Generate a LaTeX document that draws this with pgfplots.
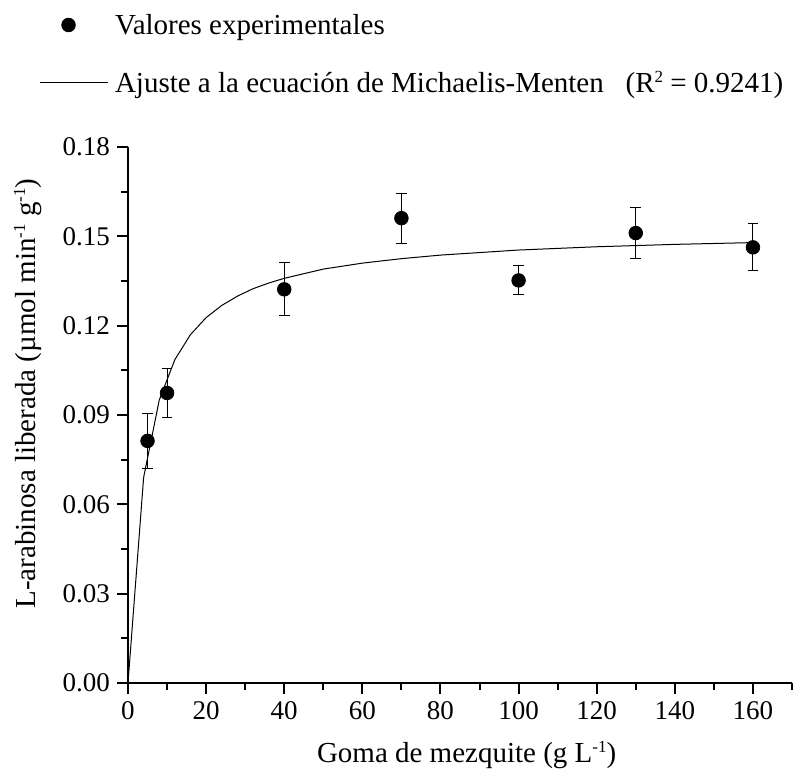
\documentclass[border=0pt]{standalone}
\usepackage{fontspec}
\setmainfont{Liberation Serif}
\usepackage{pgfplots}
\usepackage{pgfplotstable}
\pgfplotsset{compat=1.18}
\newcommand{\sups}[1]{\raisebox{0.8ex}{\fontsize{8.5}{8.5}\selectfont #1}}

\pgfplotstableread{
x y err
5 0.0813 0.0093
10 0.0974 0.0083
40 0.1322 0.0089
70 0.1561 0.0084
100 0.1352 0.0049
130 0.1511 0.0087
160 0.1463 0.0079
}\expdata

\pgfplotstableread{
x y
0 0
4 0.0690
8 0.0950
12 0.1086
16 0.1170
20 0.1227
24 0.1268
28 0.1299
32 0.1324
36 0.1343
40 0.1359
50 0.1390
60 0.1410
70 0.1425
80 0.1437
100 0.1454
120 0.1465
140 0.1473
160 0.1479
}\fitdata

\begin{document}
\begin{tikzpicture}
\begin{axis}[
  scale only axis,
  width=332pt, height=268pt,
  xmin=0, xmax=170, ymin=0, ymax=0.18,
  axis lines*=left,
  axis line style={line width=1pt, black, -},
  xtick={0,20,...,160},
  minor xtick={10,30,...,170},
  ytick={0,0.03,0.06,0.09,0.12,0.15,0.18},
  minor ytick={0.015,0.045,0.075,0.105,0.135,0.165},
  tick align=outside,
  major tick length=5.5pt,
  minor tick length=3.3pt,
  every tick/.style={line width=1pt, black},
  /pgf/number format/assume math mode=true,
  tick label style={font=\fontsize{13.5}{16}\selectfont},
  yticklabel style={/pgf/number format/.cd, fixed, fixed zerofill, precision=2},
  scaled y ticks=false,
  label style={font=\fontsize{14.5}{17}\selectfont},
  xlabel={Goma de mezquite (g L\sups{-1})},
  ylabel={L-arabinosa liberada (µmol min\sups{-1} g\sups{-1})},
  xlabel style={at={(axis description cs:0.51,-0.149)}, anchor=base},
  ylabel style={at={(axis description cs:-0.139,0.54)}, anchor=base},
  legend cell align=left,
  legend style={
    at={(axis description cs:-0.134,1.25)}, anchor=north west,
    draw=none, fill=none, inner sep=0pt, outer sep=0pt,
    font=\fontsize{14.5}{17}\selectfont,
    row sep=14.5pt, column sep=3.5pt,
    nodes={inner xsep=0pt, inner ysep=0pt, text height=11pt, text depth=3.5pt},
  },
]
\addplot[only marks, mark=*, mark size=3.4pt, black,
  legend image code/.code={\draw[black, mark=*, mark size=3.4pt, only marks] plot coordinates {(14.5pt,1.25pt)};\path (0pt,0pt) (34pt,0pt);},
  error bars/.cd, y dir=both, y explicit,
  error bar style={line width=0.5pt, black},
  error mark options={rotate=90, mark size=2.7pt, line width=0.5pt, black},
  ] table[x=x, y=y, y error=err] {\expdata};
\addlegendentry{Valores experimentales}
\addplot[black, line width=0.5pt, mark=none,
  legend image code/.code={\draw[black, line width=0.5pt] (0pt,1.25pt) -- (34pt,1.25pt);}
  ] table[x=x, y=y] {\fitdata};
\addlegendentry{Ajuste a la ecuación de Michaelis-Menten\ \ \ (R\sups{2} = 0.9241)}
\end{axis}
\pgfresetboundingbox
\path (current axis.south west) ++(-64pt,-46.5pt) rectangle ++(401pt,388pt);
\end{tikzpicture}
\end{document}
